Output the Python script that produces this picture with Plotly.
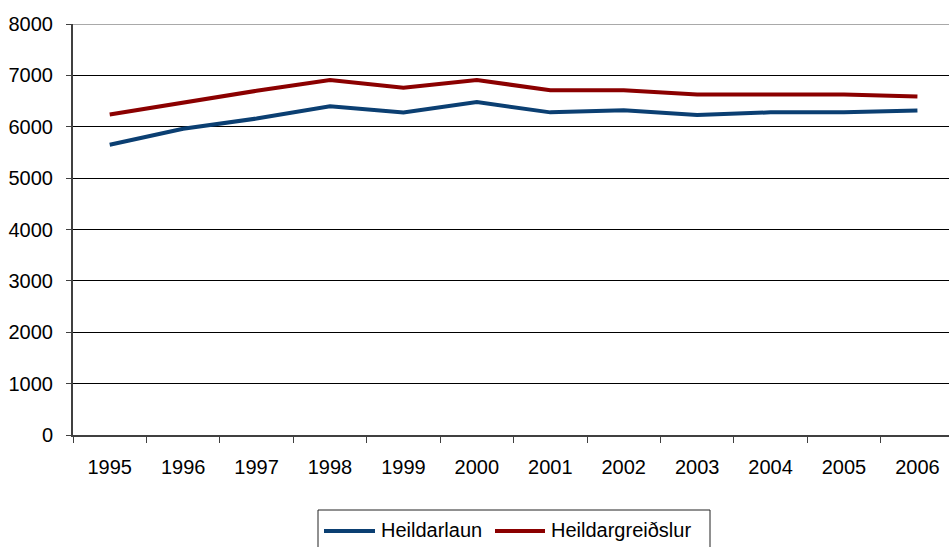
import plotly.graph_objects as go

years = ["1995", "1996", "1997", "1998", "1999", "2000", "2001", "2002", "2003", "2004", "2005", "2006"]
heildarlaun = [5650, 5960, 6160, 6400, 6280, 6480, 6280, 6320, 6230, 6280, 6280, 6315]
heildargreidslur = [6240, 6470, 6700, 6910, 6760, 6910, 6710, 6710, 6630, 6630, 6630, 6590]
series_names = ["Heildarlaun", "Heildargreiðslur"]

BLUE = "#0b3f72"
RED = "#8b0000"
FONT = "Liberation Sans, Arial, sans-serif"

W, H = 949, 547
ML, MR, MT, MB = 73, 0, 24, 112
PW, PH = W - ML - MR, H - MT - MB


def px(x):
    return (x - ML) / PW


def py(y):
    return (H - MB - y) / PH


fig = go.Figure()
fig.add_trace(go.Scatter(x=years, y=heildarlaun, mode="lines", name=series_names[0],
                         line=dict(color=BLUE, width=4)))
fig.add_trace(go.Scatter(x=years, y=heildargreidslur, mode="lines", name=series_names[1],
                         line=dict(color=RED, width=4)))

fig.update_layout(
    width=W, height=H,
    margin=dict(l=ML, r=MR, t=MT, b=MB),
    paper_bgcolor="white", plot_bgcolor="white",
    font=dict(family=FONT, size=20, color="black"),
    showlegend=False,
    xaxis=dict(type="category", range=[-0.5, 11.43], tickson="boundaries",
               ticks="outside", ticklen=6, tickcolor="#404040", tickwidth=1,
               showgrid=False, showline=True, linecolor="#404040", linewidth=2,
               ticklabelstandoff=13, zeroline=False),
    yaxis=dict(range=[0, 8000], dtick=1000, tick0=0, ticks="outside", ticklen=5,
               tickcolor="#404040", tickwidth=1, showgrid=True, gridcolor="black",
               gridwidth=1, showline=True, linecolor="#404040", linewidth=2,
               zeroline=False, ticklabelstandoff=9),
)
fig.add_shape(type="line", xref="paper", yref="y", x0=0, x1=1, y0=8000, y1=8000,
              line=dict(color="#8c8c8c", width=1.5))

# legend box (custom, to match the longer line samples)
fig.add_shape(type="rect", xref="paper", yref="paper", x0=px(318), x1=px(710),
              y0=py(565), y1=py(510), line=dict(color="#222222", width=1),
              fillcolor="white")
for (x0, x1, tx), name, col in zip([(324, 375, 379), (495, 545, 549)], series_names, [BLUE, RED]):
    fig.add_shape(type="line", xref="paper", yref="paper", x0=px(x0), x1=px(x1),
                  y0=py(531), y1=py(531), line=dict(color=col, width=4))
    fig.add_annotation(xref="paper", yref="paper", x=px(tx), y=py(530), text=name,
                       showarrow=False, xanchor="left", yanchor="middle",
                       font=dict(size=20, color="black"))

fig.write_html("out.html", config={"displayModeBar": False},
               post_script="document.body.style.margin='0';")
